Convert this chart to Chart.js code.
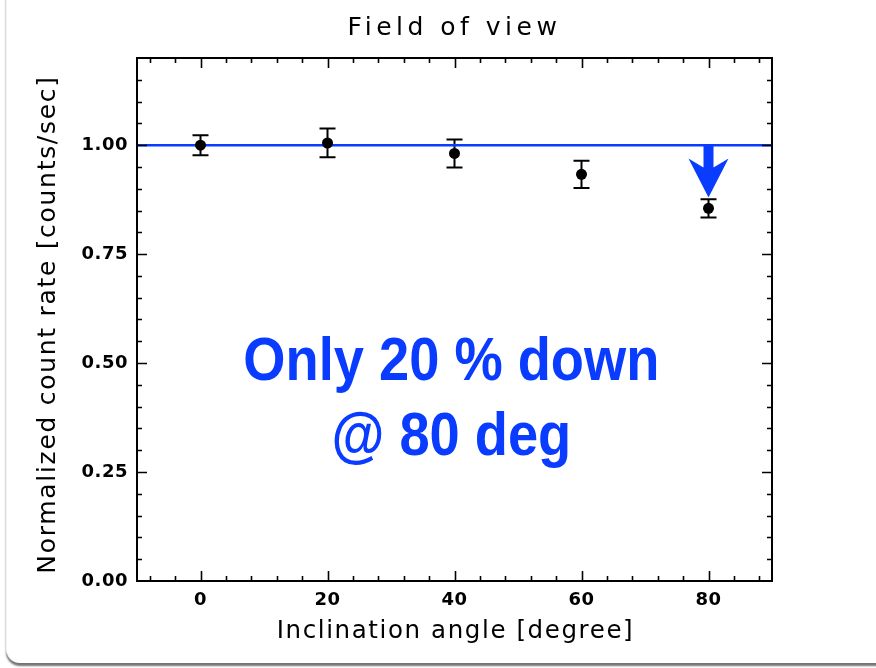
<!DOCTYPE html>
<html>
<head>
<meta charset="utf-8">
<title>Field of view</title>
<script src="https://cdn.jsdelivr.net/npm/chart.js@4.4.1/dist/chart.umd.min.js"></script>
<style>
  html, body { margin: 0; padding: 0; background: #fff; width: 876px; height: 668px; overflow: hidden; }
  #card {
    position: absolute; left: 6px; top: -40px; width: 900px; height: 703px;
    background: #fff; border-radius: 14px;
    border-left: 1px solid #f3f3f3;
    box-shadow: 0 3px 2px rgba(0, 0, 0, 0.55);
  }
  #wrap { position: absolute; left: 0; top: 0; width: 876px; height: 668px; }
</style>
</head>
<body>
<div id="card"></div>
<div id="wrap"><canvas id="fov" width="876" height="668"></canvas></div>
<script>
// Measured count rate vs. inclination angle, normalised to the on-axis value
const angles      = [0, 20, 40, 60, 80];
const rates       = [1.000, 1.005, 0.981, 0.933, 0.855];
const rateErrors  = [0.023, 0.033, 0.032, 0.031, 0.021];

// Flat reference level (no loss of counts)
const referenceAngles = [-10, 90];
const referenceRates  = [1.0, 1.0];

// Axis ticks
const xTicks      = [0, 20, 40, 60, 80];
const xTickLabels = ['0', '20', '40', '60', '80'];
const yTicks      = [0, 0.25, 0.5, 0.75, 1.0];
const yTickLabels = ['0.00', '0.25', '0.50', '0.75', '1.00'];

// Annotation
const noteLines = ['Only 20 % down', '@ 80 deg'];

const BLUE = '#0a3cff';
const TEXT_FONT = '"DejaVu Sans", sans-serif';

// Text, box, inward tick marks, error bars and arrow drawn on top of the Chart.js scales
const decorations = {
  id: 'decorations',
  beforeDraw(chart) {
    chart.ctx.letterSpacing = '0.5px';
  },
  beforeDatasetsDraw(chart) {
    const ctx = chart.ctx, xs = chart.scales.x, ys = chart.scales.y;
    ctx.save();
    ctx.strokeStyle = '#000';
    ctx.lineWidth = 2;
    angles.forEach((a, i) => {
      const px = xs.getPixelForValue(a);
      const top = ys.getPixelForValue(rates[i] + rateErrors[i]);
      const bot = ys.getPixelForValue(rates[i] - rateErrors[i]);
      ctx.beginPath();
      ctx.moveTo(px, top); ctx.lineTo(px, bot);
      ctx.moveTo(px - 8, top); ctx.lineTo(px + 8, top);
      ctx.moveTo(px - 8, bot); ctx.lineTo(px + 8, bot);
      ctx.stroke();
    });
    ctx.restore();
  },
  afterDraw(chart) {
    const ctx = chart.ctx, xs = chart.scales.x, ys = chart.scales.y;
    const { left, right, top, bottom } = chart.chartArea;
    ctx.save();

    // plot frame
    ctx.strokeStyle = '#000';
    ctx.lineWidth = 2;
    ctx.strokeRect(left, top, right - left, bottom - top);

    // inward ticks on all four sides
    ctx.lineWidth = 1.6;
    ctx.beginPath();
    for (let v = -8; v <= 88; v += 4) {
      const px = Math.round(xs.getPixelForValue(v)) + 0.5;
      const len = (v % 20 === 0) ? 10 : 5;
      ctx.moveTo(px, bottom); ctx.lineTo(px, bottom - len);
      ctx.moveTo(px, top); ctx.lineTo(px, top + len);
    }
    for (let k = 1; k < 24; k++) {
      const v = k * 0.05;
      const py = Math.round(ys.getPixelForValue(v)) + 0.5;
      const len = (k % 5 === 0) ? 10 : 5;
      ctx.moveTo(left, py); ctx.lineTo(left + len, py);
      ctx.moveTo(right, py); ctx.lineTo(right - len, py);
    }
    ctx.stroke();

    // arrow pointing down to the 80 deg point
    const ax = xs.getPixelForValue(80);
    const y0 = ys.getPixelForValue(1.0);
    const y1 = ys.getPixelForValue(0.88);
    const headLen = 39, headHalf = 20, notch = 9, shaftHalf = 5;
    ctx.fillStyle = BLUE;
    ctx.beginPath();
    ctx.moveTo(ax - shaftHalf, y0);
    ctx.lineTo(ax + shaftHalf, y0);
    ctx.lineTo(ax + shaftHalf, y1 - headLen + notch);
    ctx.lineTo(ax + headHalf, y1 - headLen);
    ctx.lineTo(ax, y1);
    ctx.lineTo(ax - headHalf, y1 - headLen);
    ctx.lineTo(ax - shaftHalf, y1 - headLen + notch);
    ctx.closePath();
    ctx.fill();

    // annotation text, condensed bold
    ctx.letterSpacing = '0px';
    ctx.fillStyle = BLUE;
    ctx.textAlign = 'center';
    ctx.textBaseline = 'alphabetic';
    ctx.font = 'bold 62px "Liberation Sans", Arial, sans-serif';
    const nx = xs.getPixelForValue(39.5);
    [0.461, 0.289].forEach((yv, i) => {
      ctx.save();
      ctx.translate(nx, ys.getPixelForValue(yv));
      ctx.scale(0.875, 1);
      ctx.fillText(noteLines[i], 0, 0);
      ctx.restore();
    });

    // titles
    ctx.fillStyle = '#000';
    ctx.textBaseline = 'middle';
    ctx.font = '25px ' + TEXT_FONT;
    ctx.letterSpacing = '4.5px';
    ctx.fillText('Field of view', (left + right) / 2, 28);
    ctx.font = '24.5px ' + TEXT_FONT;
    ctx.letterSpacing = '1.6px';
    ctx.fillText('Inclination angle [degree]', (left + right) / 2 + 1, 632);
    ctx.font = '25px ' + TEXT_FONT;
    ctx.letterSpacing = '1.7px';
    ctx.translate(48, (top + bottom) / 2 + 5);
    ctx.rotate(-Math.PI / 2);
    ctx.fillText('Normalized count rate [counts/sec]', 0, 0);
    ctx.restore();
  }
};

const tickFont = { family: TEXT_FONT, size: 18, weight: 'bold' };

new Chart(document.getElementById('fov'), {
  type: 'scatter',
  data: {
    datasets: [
      {
        label: 'Normalized count rate',
        data: angles.map((a, i) => ({ x: a, y: rates[i] })),
        pointRadius: 5.5,
        pointBackgroundColor: '#000',
        pointBorderWidth: 0,
        showLine: false,
        order: 1
      },
      {
        label: 'Reference',
        data: referenceAngles.map((a, i) => ({ x: a, y: referenceRates[i] })),
        showLine: true,
        borderColor: BLUE,
        borderWidth: 2.5,
        pointRadius: 0,
        order: 2
      }
    ]
  },
  options: {
    responsive: false,
    animation: false,
    devicePixelRatio: 1,
    layout: { padding: { left: 0, right: 104, top: 58, bottom: 0 } },
    plugins: {
      legend: { display: false },
      title: { display: false },
      tooltip: { enabled: false }
    },
    scales: {
      x: {
        type: 'linear', min: -10, max: 90,
        grid: { display: false, drawTicks: false },
        border: { display: false },
        afterBuildTicks: s => { s.ticks = xTicks.map(v => ({ value: v })); },
        afterFit: s => { s.height = 87; },
        ticks: {
          callback: (v, i) => xTickLabels[i],
          color: '#000', font: tickFont, padding: 9,
          maxRotation: 0, autoSkip: false
        }
      },
      y: {
        type: 'linear', min: 0, max: 1.2,
        grid: { display: false, drawTicks: false },
        border: { display: false },
        afterBuildTicks: s => { s.ticks = yTicks.map(v => ({ value: v })); },
        afterFit: s => { s.width = 137; },
        ticks: {
          callback: (v, i) => yTickLabels[i],
          color: '#000', font: tickFont, padding: 9,
          autoSkip: false
        }
      }
    }
  },
  plugins: [decorations]
});
</script>
</body>
</html>
